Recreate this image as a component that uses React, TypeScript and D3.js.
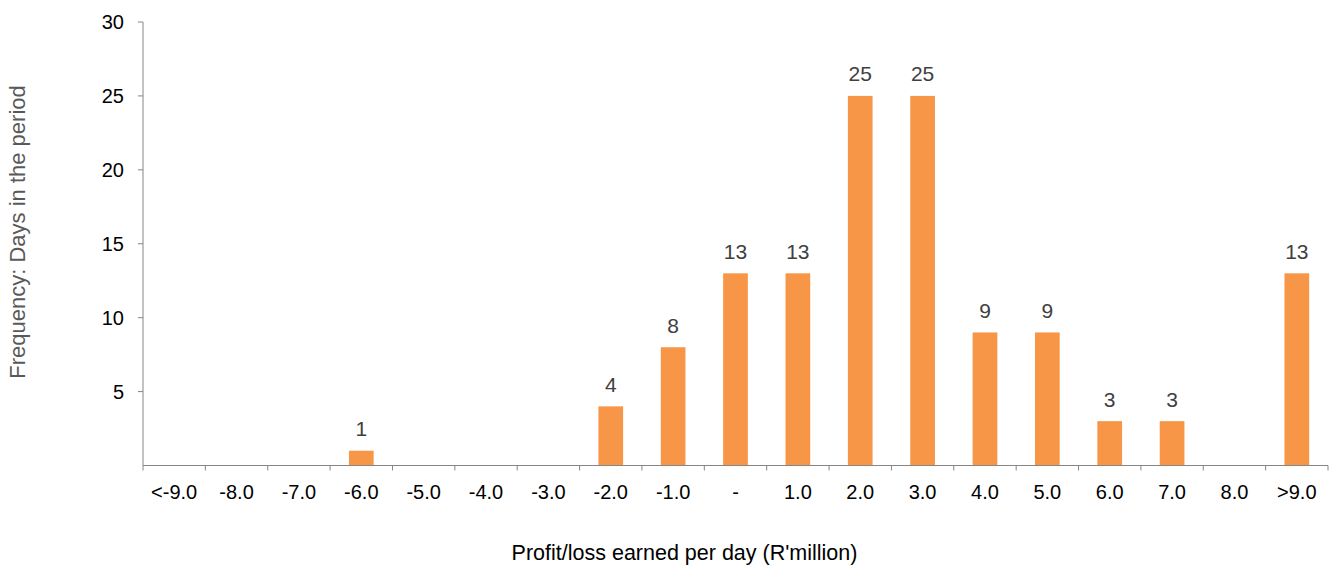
import React from "react";
import * as d3 from "d3";

const categories = ["<-9.0", "-8.0", "-7.0", "-6.0", "-5.0", "-4.0", "-3.0", "-2.0", "-1.0", "-", "1.0", "2.0", "3.0", "4.0", "5.0", "6.0", "7.0", "8.0", ">9.0"];
const values = [0, 0, 0, 1, 0, 0, 0, 4, 8, 13, 13, 25, 25, 9, 9, 3, 3, 0, 13];
const yTicks = [5, 10, 15, 20, 25, 30];

const W = 1330, H = 566;
const left = 143, right = 1328, top = 22, bottom = 465.5;

export default function App() {
  const xb = d3.scaleBand<string>().domain(categories).range([left, right]);
  const y = d3.scaleLinear().domain([0, 30]).range([bottom, top]);
  const font = "Liberation Sans, Arial, sans-serif";
  const axisColor = "#868686";
  const barW = 24.7;
  return (
    <svg width={W} height={H} style={{ position: "absolute", left: 0, top: 0 }} fontFamily={font}>
      <rect width={W} height={H} fill="#fff" />
      {categories.map((c, i) =>
        values[i] > 0 ? (
          <g key={c}>
            <rect x={xb(c)! + (xb.bandwidth() - barW) / 2} y={y(values[i])} width={barW} height={bottom - y(values[i])} fill="#F79646" />
            <text x={xb(c)! + xb.bandwidth() / 2} y={y(values[i]) - 14.5} textAnchor="middle" fontSize={21} fill="#404040">{values[i]}</text>
          </g>
        ) : null
      )}
      <line x1={left} x2={left} y1={top} y2={bottom} stroke={axisColor} />
      <line x1={left} x2={right} y1={bottom} y2={bottom} stroke={axisColor} />
      {yTicks.map((t) => (
        <g key={t}>
          <line x1={left - 5} x2={left} y1={y(t)} y2={y(t)} stroke={axisColor} />
          <text x={124} y={y(t)} dy="0.35em" textAnchor="end" fontSize={20} fill="#000">{t}</text>
        </g>
      ))}
      {categories.map((c) => (
        <g key={c}>
          <line x1={xb(c)!} x2={xb(c)!} y1={bottom} y2={bottom + 5} stroke={axisColor} />
          <text x={xb(c)! + xb.bandwidth() / 2} y={491.5} dy="0.35em" textAnchor="middle" fontSize={20} fill="#000">{c}</text>
        </g>
      ))}
      <line x1={right} x2={right} y1={bottom} y2={bottom + 5} stroke={axisColor} />
      <text x={684.5} y={552} dy="0.35em" textAnchor="middle" fontSize={21.5} fill="#000">Profit/loss earned per day (R'million)</text>
      <text transform={`translate(17,232) rotate(-90)`} dy="0.35em" textAnchor="middle" fontSize={22} fill="#595959">Frequency: Days in the period</text>
    </svg>
  );
}
